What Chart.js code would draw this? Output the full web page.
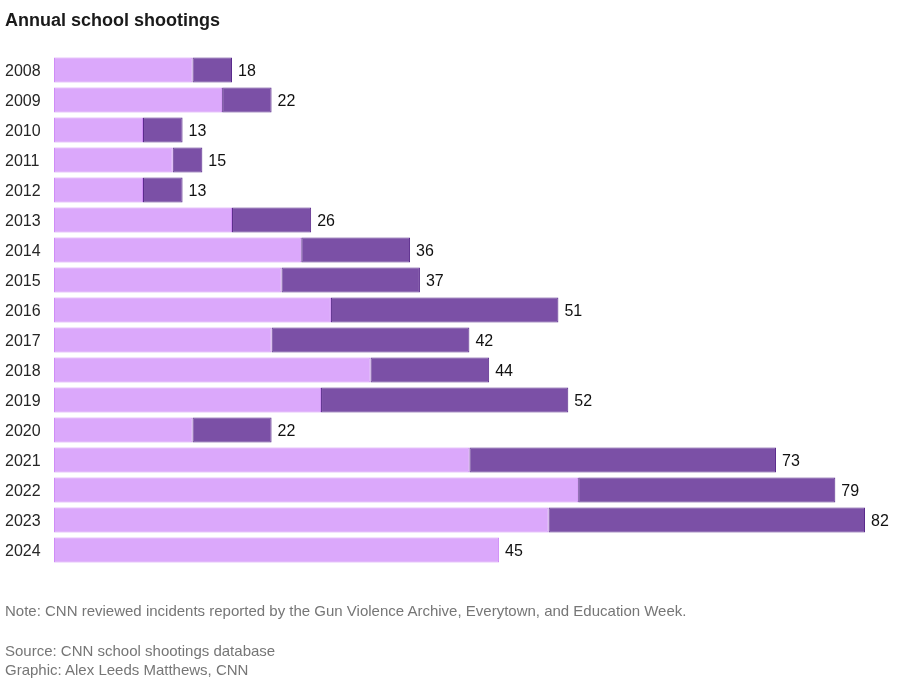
<!DOCTYPE html>
<html>
<head>
<meta charset="utf-8">
<script src="https://cdn.jsdelivr.net/npm/chart.js@4"></script>
<style>
  html, body { margin: 0; padding: 0; background: #fff; }
  #wrap { position: relative; width: 902px; height: 680px; font-family: "Liberation Sans", Arial, sans-serif; }
  #chart { position: absolute; left: 0; top: 0; }
  .title { position: absolute; left: 5px; top: 10px; font-size: 18px; font-weight: bold; color: #1a1a1a; }
  .note { position: absolute; left: 5px; font-size: 15px; color: #767676; }
</style>
</head>
<body>
<div id="wrap">
  <canvas id="chart" width="902" height="680"></canvas>
  <div class="title">Annual school shootings</div>
  <div class="note" style="top:602px">Note: CNN reviewed incidents reported by the Gun Violence Archive, Everytown, and Education Week.</div>
  <div class="note" style="top:642px">Source: CNN school shootings database</div>
  <div class="note" style="top:661px">Graphic: Alex Leeds Matthews, CNN</div>
</div>
<script>
const years = ["2008","2009","2010","2011","2012","2013","2014","2015","2016","2017","2018","2019","2020","2021","2022","2023","2024"];
const lightValues = [14,17,9,12,9,18,25,23,28,22,32,27,14,42,53,50,45];
const darkValues  = [4,5,4,3,4,8,11,14,23,20,12,25,8,31,26,32,0];
const totals = [18,22,13,15,13,26,36,37,51,42,44,52,22,73,79,82,45];

const totalLabels = {
  id: 'totalLabels',
  afterDatasetsDraw(chart) {
    const ctx = chart.ctx;
    const xs = chart.scales.x, ys = chart.scales.y;
    ctx.save();
    ctx.font = '16px "Liberation Sans", Arial, sans-serif';
    ctx.fillStyle = '#111';
    ctx.textBaseline = 'middle';
    ctx.textAlign = 'left';
    totals.forEach((t, i) => {
      ctx.fillText(String(t), xs.getPixelForValue(t) + 6, ys.getPixelForValue(i) + 1.5);
    });
    ctx.restore();
  }
};

new Chart(document.getElementById('chart'), {
  type: 'bar',
  data: {
    labels: years,
    datasets: [
      { data: lightValues, backgroundColor: '#dba8fb', borderColor: '#cf8cf6', borderWidth: 1, borderSkipped: false },
      { data: darkValues, backgroundColor: '#7b50a6', borderColor: '#5a2a8c', borderWidth: 1, borderSkipped: false }
    ]
  },
  options: {
    indexAxis: 'y',
    responsive: false,
    animation: false,
    layout: { padding: { top: 55, bottom: 115, right: 37, left: 5 } },
    plugins: { legend: { display: false }, tooltip: { enabled: false }, title: { display: false } },
    datasets: { bar: { categoryPercentage: 1, barPercentage: 0.84 } },
    scales: {
      x: { stacked: true, min: 0, max: 82, display: false },
      y: {
        stacked: true,
        grid: { display: false },
        border: { display: false },
        ticks: { color: '#262626', font: { size: 16, family: '"Liberation Sans", Arial, sans-serif' }, crossAlign: 'far', padding: 0, labelOffset: 2 },
        afterFit(scale) { scale.width = 49; }
      }
    }
  },
  plugins: [totalLabels]
});
</script>
</body>
</html>
